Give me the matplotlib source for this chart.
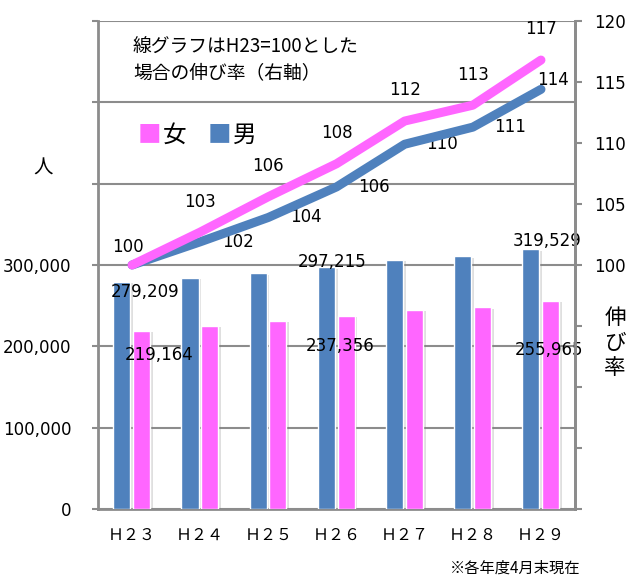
import numpy as np
import matplotlib
matplotlib.use("Agg")
import matplotlib.pyplot as plt
from matplotlib.ticker import FuncFormatter, MultipleLocator
import matplotlib.patheffects as pe

plt.rcParams['font.family'] = ['Noto Sans CJK JP', 'DejaVu Sans']
NUM = ['DejaVu Sans']

# data
years = ['Ｈ２３', 'Ｈ２４', 'Ｈ２５', 'Ｈ２６', 'Ｈ２７', 'Ｈ２８', 'Ｈ２９']
male = [279209, 284500, 290000, 297215, 306500, 310500, 319529]
female = [219164, 225000, 231500, 237356, 245000, 247800, 255965]
male_idx = [100, 101.9, 103.9, 106.4, 109.9, 111.3, 114.4]
female_idx = [100, 102.7, 105.6, 108.3, 111.8, 113.1, 116.8]
male_lbl = ['', '102', '104', '106', '110', '111', '114']
female_lbl = ['100', '103', '106', '108', '112', '113', '117']

BLUE = '#4F81BD'
PINK = '#FF66FF'
GRID = '#8C8C8C'

fig = plt.figure(figsize=(6.34, 5.87), dpi=100)
ax = fig.add_axes([0.1546, 0.1329, 0.907 - 0.1546, 0.9642 - 0.1329])
x = np.arange(len(years))

# bars
shadow = [pe.withSimplePatchShadow(offset=(2, -1), alpha=0.25, shadow_rgbFace='gray')]
ax.bar(x - 0.15, male, width=0.25, color=BLUE, edgecolor='white', linewidth=1,
       path_effects=shadow, zorder=3)
ax.bar(x + 0.14, female, width=0.25, color=PINK, edgecolor='white', linewidth=1,
       path_effects=shadow, zorder=3)

ax.set_xlim(-0.5, 6.5)
ax.set_ylim(0, 600000)
ax.yaxis.set_major_locator(MultipleLocator(100000))
ax.yaxis.set_major_formatter(FuncFormatter(lambda v, p: f'{int(v):,}' if v <= 300000 else ''))
ax.grid(axis='y', color=GRID, linewidth=1.5, zorder=0)
ax.set_axisbelow(True)
ax.set_xticks(x)
ax.set_xticklabels(years, fontsize=11.5)
ax.tick_params(axis='x', length=0, pad=13)
ax.tick_params(axis='y', length=4.5, width=1.5, color=GRID, labelsize=12, pad=14.5)
for lab in ax.get_yticklabels():
    lab.set_family(NUM)
ax.spines['top'].set_visible(False)
for s in ['left', 'bottom', 'right']:
    ax.spines[s].set_color(GRID)
    ax.spines[s].set_linewidth(2)

# bar value labels
kw = dict(ha='center', va='center', fontsize=12, family=NUM, zorder=6)
ax.text(0 + 0.19, 279209 - 13000, '279,209', **kw)
ax.text(0 + 0.40, 219164 - 30000, '219,164', **kw)
ax.text(3 - 0.07, 297215 + 7000, '297,215', **kw)
ax.text(3 + 0.06, 237356 - 37000, '237,356', **kw)
ax.text(6 + 0.09, 319529 + 10000, '319,529', **kw)
ax.text(6 + 0.12, 255965 - 60000, '255,965', **kw)

# index lines on right axis
ax2 = ax.twinx()
ax2.set_ylim(80, 120)
ax2.yaxis.set_major_locator(MultipleLocator(5))
ax2.yaxis.set_major_formatter(FuncFormatter(lambda v, p: f'{int(v)}' if v >= 100 else ''))
ax2.tick_params(axis='y', length=5, width=1.5, color=GRID, labelsize=12, pad=9)
for lab in ax2.get_yticklabels():
    lab.set_family(NUM)
for s in ['top', 'left', 'bottom']:
    ax2.spines[s].set_visible(False)
ax2.spines['right'].set_color(GRID)
ax2.spines['right'].set_linewidth(2)

ax2.plot(x, male_idx, color=BLUE, linewidth=6.5, solid_capstyle='round',
         solid_joinstyle='round', zorder=4)
ax2.plot(x, female_idx, color=PINK, linewidth=6.5, solid_capstyle='round',
         solid_joinstyle='round', zorder=5)

for i, (v, t) in enumerate(zip(female_idx, female_lbl)):
    off = (-3, 13) if i == 0 else (0, 22)
    ax2.annotate(t, (x[i], v), xytext=off, textcoords='offset points',
                 ha='center', va='center', fontsize=12, family=NUM)
for i, (v, t) in enumerate(zip(male_idx, male_lbl)):
    if not t:
        continue
    off = (27, 0) if i < 6 else (9, 7)
    ax2.annotate(t, (x[i], v), xytext=off, textcoords='offset points',
                 ha='center', va='center', fontsize=12, family=NUM)

# notes and titles
fig.text(133 / 634, 1 - 47 / 587, '線グラフはH23=100とした', fontsize=13.5, va='center')
fig.text(133 / 634, 1 - 73 / 587, '場合の伸び率（右軸）', fontsize=13.5, va='center')
fig.text(138 / 634, 1 - 135 / 587, '■', color=PINK, fontsize=17, va='center')
fig.text(163 / 634, 1 - 135 / 587, '女', fontsize=17, va='center')
fig.text(208 / 634, 1 - 135 / 587, '■', color=BLUE, fontsize=17, va='center')
fig.text(233 / 634, 1 - 135 / 587, '男', fontsize=17, va='center')
fig.text(43 / 634, 1 - 168 / 587, '人', fontsize=14, ha='center', va='center')
for k, ch in enumerate('伸び率'):
    fig.text(615 / 634, 1 - (318 + 25 * k) / 587, ch, fontsize=15.5, ha='center', va='center')
fig.text(580 / 634, 1 - 568 / 587, '※各年度4月末現在', fontsize=11, ha='right', va='center')

fig.savefig('out.png', dpi=100)
